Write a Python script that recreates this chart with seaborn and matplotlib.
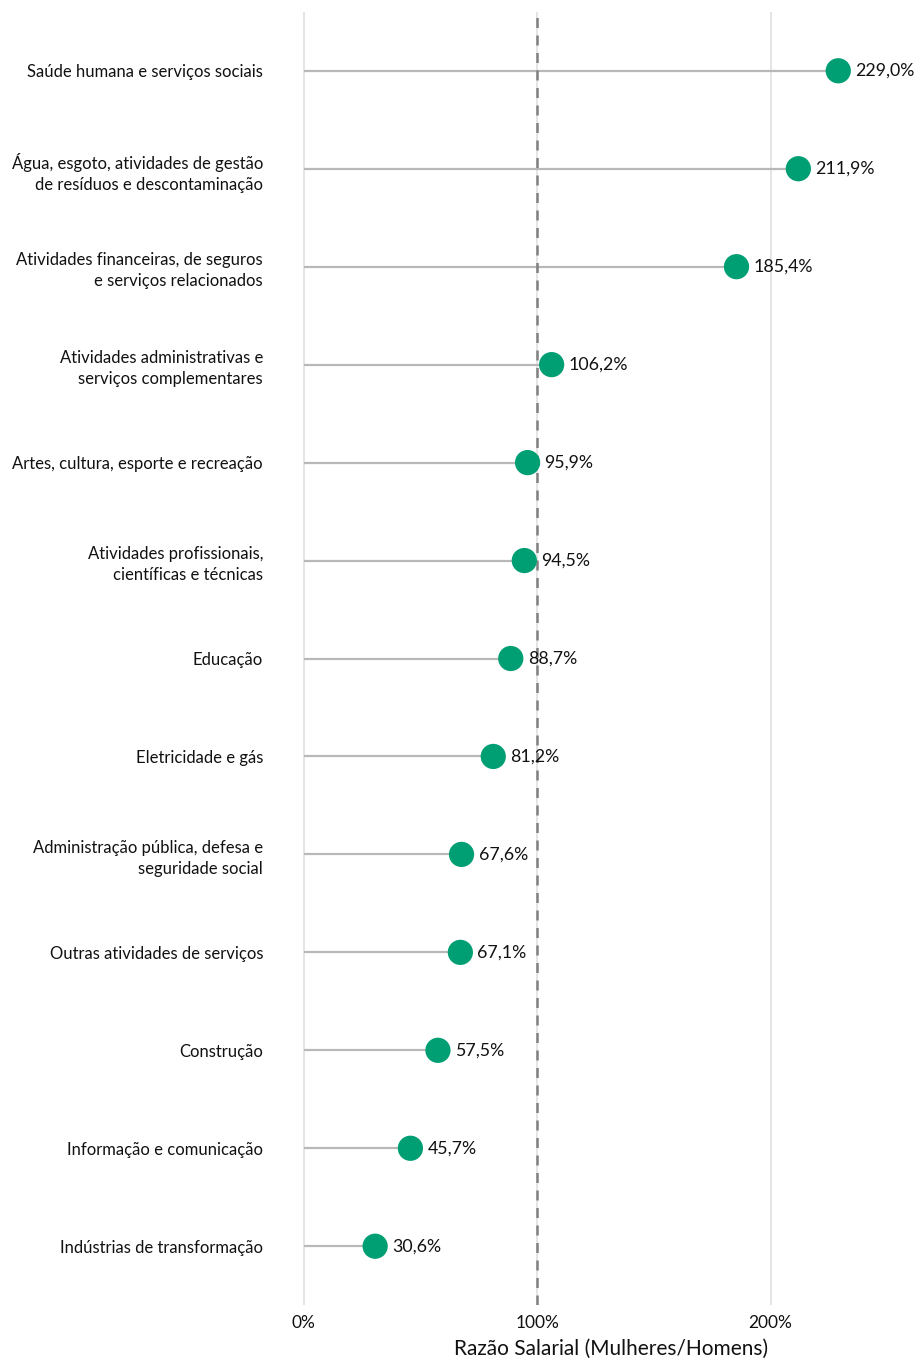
import pandas as pd
import matplotlib.pyplot as plt
import seaborn as sns

# data
setores = [
    "Saúde humana e serviços sociais",
    "Água, esgoto, atividades de gestão\nde resíduos e descontaminação",
    "Atividades financeiras, de seguros\ne serviços relacionados",
    "Atividades administrativas e\nserviços complementares",
    "Artes, cultura, esporte e recreação",
    "Atividades profissionais,\ncientíficas e técnicas",
    "Educação",
    "Eletricidade e gás",
    "Administração pública, defesa e\nseguridade social",
    "Outras atividades de serviços",
    "Construção",
    "Informação e comunicação",
    "Indústrias de transformação",
]
razao = [229.0, 211.9, 185.4, 106.2, 95.9, 94.5, 88.7, 81.2, 67.6, 67.1, 57.5, 45.7, 30.6]
xticks = [0, 100, 200]

df = pd.DataFrame({"setor": setores, "razao": razao})
df["pos"] = range(len(df))

sns.set_style("white")
plt.rcParams['font.family'] = ['Lato', 'DejaVu Sans']

fig = plt.figure(figsize=(9.16, 13.58), dpi=100)
ax = fig.add_axes([277 / 916, 1 - 1305 / 1358, (865 - 277) / 916, (1305 - 12) / 1358])

# light vertical grid
for t in xticks:
    ax.axvline(t, color="#e3e3e3", lw=1.3, zorder=0)

# lollipop stems
ax.hlines(df["pos"], 0, df["razao"], color="#b8b8b8", lw=1.6, zorder=1)
ax.axvline(100, color="#808080", lw=1.8, ls=(0, (4, 3)), zorder=2)

sns.scatterplot(data=df, x="razao", y="pos", ax=ax, color="#009E73",
                s=330, edgecolor="none", zorder=3, legend=False)

for _, r in df.iterrows():
    ax.text(r["razao"] + 7.3, r["pos"], f"{r['razao']:.1f}".replace(".", ",") + "%",
            va="center", ha="left", fontsize=12.8, color="#111111", zorder=4)

ax.set_xlim(-11.45, 240.45)
ax.set_ylim(len(df) - 0.4, -0.6)
ax.set_yticks(df["pos"])
ax.set_yticklabels(df["setor"], fontsize=12.0, color="#111111", ha="right",
                   linespacing=1.4)
ax.set_xticks(xticks)
ax.set_xticklabels([f"{t}%" for t in xticks], fontsize=12.5, color="#111111")
ax.tick_params(axis="y", length=0, pad=10)
ax.tick_params(axis="x", length=0, pad=7)
ax.set_xlabel("Razão Salarial (Mulheres/Homens)", fontsize=15, color="#111111")
ax.xaxis.set_label_coords((611 - 277) / (865 - 277), -0.026)
ax.set_ylabel("")
sns.despine(ax=ax, left=True, bottom=True)

fig.savefig("out.png", dpi=100)
